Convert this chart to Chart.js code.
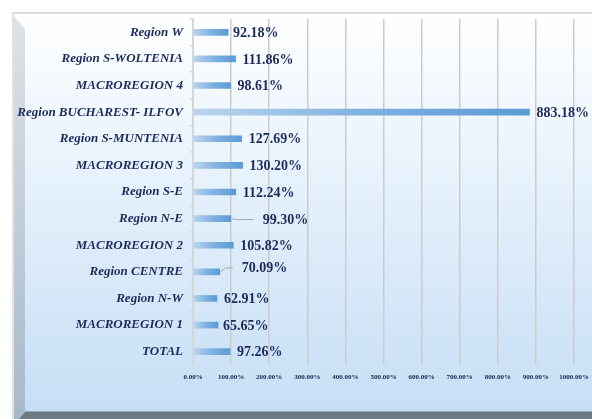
<!DOCTYPE html>
<html>
<head>
<meta charset="utf-8">
<script src="https://cdn.jsdelivr.net/npm/chart.js@4/dist/chart.umd.min.js"></script>
<style>
html,body{margin:0;padding:0;background:#fff;}
canvas{display:block;}
</style>
</head>
<body>
<canvas id="c" width="592" height="419"></canvas>
<script>
// ---- data ----
const categories = [
  "Region W", "Region S-WOLTENIA", "MACROREGION 4", "Region BUCHAREST- ILFOV",
  "Region S-MUNTENIA", "MACROREGION 3", "Region S-E", "Region N-E",
  "MACROREGION 2", "Region CENTRE", "Region N-W", "MACROREGION 1", "TOTAL"
];
const values = [92.18, 111.86, 98.61, 883.18, 127.69, 130.20, 112.24, 99.30, 105.82, 70.09, 62.91, 65.65, 97.26];
const xTickValues = [0, 100, 200, 300, 400, 500, 600, 700, 800, 900, 1000];

// ---- label placement (style only) ----
const defaultLabelGap = 7;
const labelStyle = {
  "Region W": {dx: 5},
  "MACROREGION 1": {dx: 5},
  "Region N-E": {dx: 32, dy: 1, leader: true},
  "Region CENTRE": {dx: 22, dy: -4, leader: true}
};

const navy = "#1c2b5c";

const framePlugin = {
  id: "frame",
  beforeDraw(chart) {
    const c = chart.ctx, W = chart.width, H = chart.height;
    c.save();
    c.fillStyle = "#ffffff";
    c.fillRect(0, 0, W, H);
    const g = c.createLinearGradient(0, 14, 0, 412);
    g.addColorStop(0, "#ffffff");
    g.addColorStop(0.35, "#eaf4fd");
    g.addColorStop(1, "#c6def5");
    c.fillStyle = g;
    c.fillRect(25, 14, W - 25, 398);
    c.fillStyle = "#dcdcdc";
    c.fillRect(12, 12, W - 12, 2);
    const lg = c.createLinearGradient(0, 14, 0, 419);
    lg.addColorStop(0, "#dfe3e7");
    lg.addColorStop(1, "#a6b9cb");
    c.fillStyle = lg;
    c.beginPath();
    c.moveTo(12, 14); c.lineTo(25, 29); c.lineTo(25, 412); c.lineTo(20, 419); c.lineTo(12, 419);
    c.closePath(); c.fill();
    c.fillStyle = "#e2e2e2";
    c.fillRect(12, 14, 2, 405);
    c.fillStyle = "#6e7a84";
    c.beginPath();
    c.moveTo(25, 412); c.lineTo(W, 412); c.lineTo(W, 419); c.lineTo(19, 419);
    c.closePath(); c.fill();
    c.fillStyle = "#9aa6b0";
    c.fillRect(25, 411, W - 25, 1);
    c.restore();
  }
};

const labelPlugin = {
  id: "vlabels",
  afterDatasetsDraw(chart) {
    const c = chart.ctx;
    const meta = chart.getDatasetMeta(0);
    c.save();
    c.font = "bold 14px 'Liberation Serif', 'Times New Roman', serif";
    c.fillStyle = navy;
    c.textBaseline = "middle";
    c.textAlign = "left";
    meta.data.forEach((bar, i) => {
      const st = labelStyle[categories[i]] || {};
      const dx = st.dx !== undefined ? st.dx : defaultLabelGap;
      const dy = st.dy || 0;
      const tx = bar.x + dx, ty = bar.y + dy;
      if (st.leader) {
        c.save();
        c.strokeStyle = "#a6a6a6";
        c.lineWidth = 1;
        c.beginPath();
        c.moveTo(bar.x + 1, bar.y);
        if (dy !== 0) {
          c.lineTo(bar.x + 6, ty);
        }
        c.lineTo(tx - 9, ty + (dy === 0 ? 1 : 0));
        c.stroke();
        c.restore();
      }
      c.fillText(values[i].toFixed(2) + "%", tx, ty + 1);
    });
    c.restore();
  }
};

new Chart(document.getElementById("c"), {
  type: "bar",
  data: {
    labels: categories,
    datasets: [{
      data: values,
      barThickness: 6,
      borderWidth: 0,
      backgroundColor(ctx) {
        const chart = ctx.chart;
        const area = chart.chartArea;
        if (!area) return "#5b9bd5";
        const x0 = chart.scales.x.getPixelForValue(0);
        const x1 = chart.scales.x.getPixelForValue(ctx.raw);
        const g = chart.ctx.createLinearGradient(x0, 0, x1, 0);
        g.addColorStop(0, "#bcd6ee");
        g.addColorStop(0.5, "#80b1e0");
        g.addColorStop(1, "#5b9bd5");
        return g;
      }
    }]
  },
  options: {
    indexAxis: "y",
    responsive: false,
    animation: false,
    layout: { padding: { left: 0, top: 19, right: 18, bottom: 14 } },
    plugins: { legend: { display: false }, tooltip: { enabled: false } },
    scales: {
      x: {
        min: 0, max: 1000,
        afterBuildTicks(scale) { scale.ticks = xTickValues.map(v => ({ value: v })); },
        afterFit(scale) { scale.height = 40; scale.paddingLeft = 0; scale.paddingRight = 0; },
        grid: { color: "#cccccc", lineWidth: 1.5, drawTicks: false },
        border: { display: false },
        ticks: {
          padding: 8,
          color: "#14224f",
          font: { family: "'Liberation Serif', serif", size: 7, weight: "bold" },
          maxRotation: 0, autoSkip: false,
          callback(v) { return Number(v).toFixed(2) + "%"; }
        }
      },
      y: {
        afterFit(scale) { scale.width = 193; },
        grid: { drawOnChartArea: false, color: "#d6d6d6", tickLength: 3, lineWidth: 1.5, offset: true },
        border: { color: "#d6d6d6", width: 2 },
        ticks: {
          padding: 7,
          color: navy,
          font: { family: "'Liberation Serif', 'Times New Roman', serif", size: 13, weight: "bold", style: "italic" },
          autoSkip: false
        }
      }
    }
  },
  plugins: [framePlugin, labelPlugin]
});
</script>
</body>
</html>
